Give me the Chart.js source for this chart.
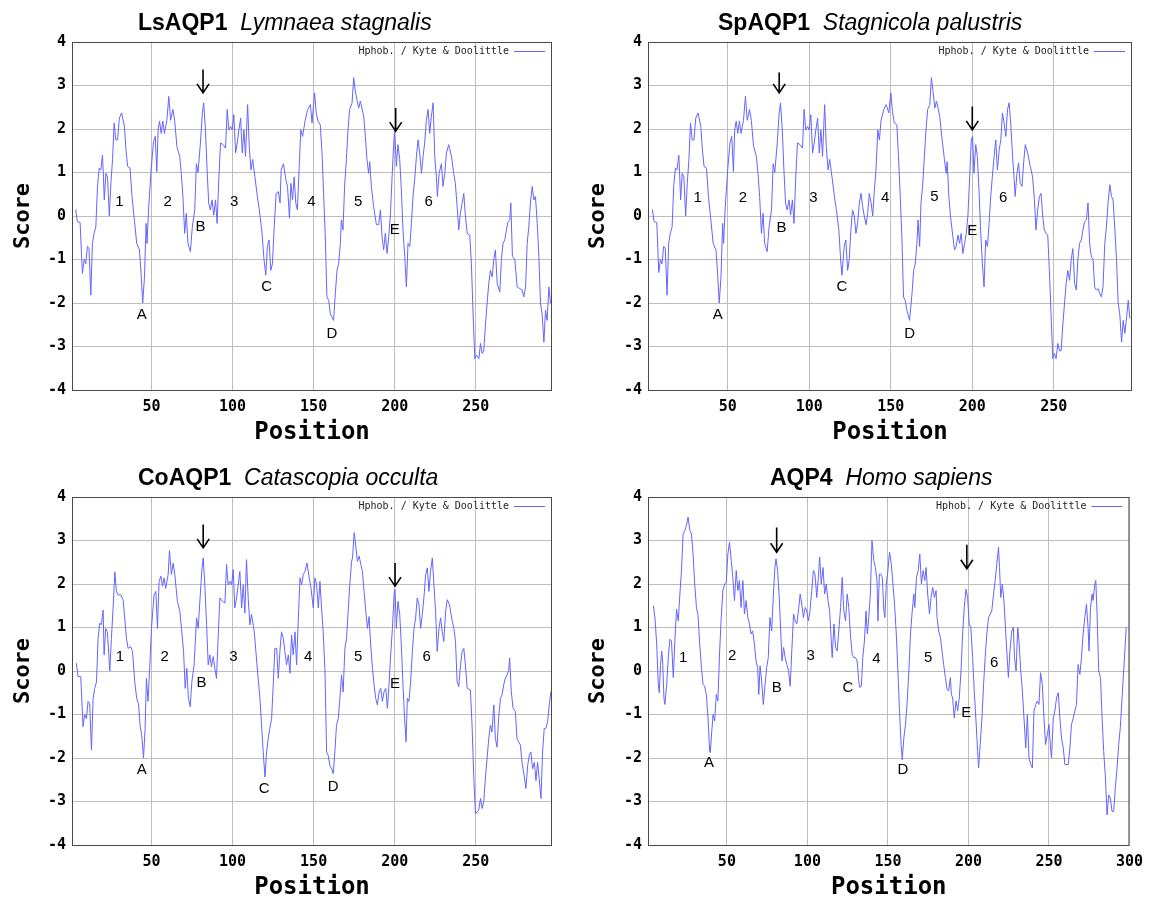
<!DOCTYPE html>
<html>
<head>
<meta charset="utf-8">
<script src="https://cdn.jsdelivr.net/npm/chart.js@4.4.1/dist/chart.umd.min.js"></script>
<style>
  body { margin: 0; background: #fff; }
  .panel { position: absolute; }
  .ttl { position: absolute; font-family: "Liberation Sans", Arial, sans-serif; font-size: 23px; line-height: 23px; color: #000; white-space: nowrap; }
  .ttl b { font-weight: bold; }
  .ttl i { font-style: italic; }
</style>
</head>
<body>
<div class="panel" style="left:0;top:0"><canvas id="c1" width="575" height="445"></canvas></div>
<div class="panel" style="left:575px;top:0"><canvas id="c2" width="576" height="445"></canvas></div>
<div class="panel" style="left:0;top:455px"><canvas id="c3" width="575" height="445"></canvas></div>
<div class="panel" style="left:575px;top:455px"><canvas id="c4" width="576" height="445"></canvas></div>
<div class="ttl" style="left:138px;top:11px"><b>LsAQP1</b>&nbsp;&nbsp;<i>Lymnaea stagnalis</i></div>
<div class="ttl" style="left:718px;top:11px"><b>SpAQP1</b>&nbsp;&nbsp;<i>Stagnicola palustris</i></div>
<div class="ttl" style="left:138px;top:466px"><b>CoAQP1</b>&nbsp;&nbsp;<i>Catascopia occulta</i></div>
<div class="ttl" style="left:770px;top:466px"><b>AQP4</b>&nbsp;&nbsp;<i>Homo sapiens</i></div>
<script>
// Kyte & Doolittle hydropathy, [position, score]
const lsAQP1 = [
  [3.3,0.15],[4.3,-0.13],[6,-0.15],[7.4,-1.32],[8.5,-1.0],[9.5,-1.1],[10.5,-0.7],[11.5,-0.75],[12.6,-1.82],[13.6,-0.63],
  [14.6,-0.4],[15.7,-0.25],[16.7,0.68],[17.8,1.1],[18.8,1.06],[19.8,1.4],[20.4,0.9],[20.9,0.37],[21.9,0.98],[22.9,0.9],
  [24,0],[25,0.75],[26,1.3],[27,2.14],[28,1.75],[29.1,1.75],[30.2,2.25],[31.6,2.37],[33.3,2.06],[34.3,1.52],
  [35.3,1.14],[36.8,1.1],[38,0.45],[39.5,-0.1],[40.9,-0.63],[42.6,-0.78],[43.6,-1.32],[44.6,-2.0],[45.7,-1.4],[46.7,-0.17],
  [47.3,-0.63],[48.3,0.2],[49.8,1.06],[51.2,1.68],[52.3,1.83],[53.3,1.02],[54.1,1.98],[55,2.18],[56,1.9],[57,2.18],
  [58,1.9],[59.5,2.2],[60.7,2.75],[61.8,2.2],[63.2,2.45],[64.3,2.2],[65.7,1.6],[67.4,1.37],[68.4,0.98],[69.4,0.45],
  [70.5,-0.4],[71.5,0.06],[72.5,-0.63],[74,-0.82],[75.2,-0.25],[76.7,0.14],[77.7,1.2],[78.7,1.0],[80.2,1.68],[81.4,2.37],
  [82.2,2.6],[83.3,1.98],[84.3,1.06],[85.3,0.3],[86.3,0.14],[87.4,0.37],[88.4,0.02],[89.5,0.37],[90.5,-0.17],[91.5,0.83],
  [92.6,1.68],[94.2,1.64],[95.7,1.56],[96.7,2.45],[97.7,1.98],[98.8,2.06],[99.8,1.98],[100.8,2.33],[101.9,1.45],[102.9,1.68],
  [103.9,1.98],[105,2.25],[106,1.45],[107,1.98],[108,1.37],[109.3,2.56],[110.3,1.6],[111.4,1.06],[112.4,1.3],[113.8,0.9],
  [115.3,0.45],[116.5,0.14],[118,-0.32],[119.4,-1.0],[120.5,-1.36],[121.5,-0.7],[122.5,-0.55],[123.6,-1.25],[124.6,-1.1],[125.6,-0.32],
  [126.9,0.52],[128.3,0.56],[129.3,0.3],[130,1.06],[131.4,1.2],[132.9,0.83],[133.9,0.68],[135.1,-0.05],[136,0.75],[137,0.37],
  [138,0.9],[139,0.3],[140,0.14],[141.1,1.14],[142.1,1.98],[143.2,1.83],[144.8,2.2],[146.3,2.45],[148,2.56],[149,2.14],
  [150.6,2.83],[151.6,2.37],[152.7,2.18],[154.1,2.1],[155.3,1.37],[156.2,0.45],[157.2,-0.48],[158.2,-1.86],[159.3,-1.94],[160.3,-2.25],
  [161.3,-2.32],[162.3,-2.4],[163.4,-1.78],[164.4,-1.25],[165.4,-1.1],[166.5,-0.63],[167.1,-0.09],[168.1,-0.32],[169.1,0.68],[170.2,1.3],
  [171.2,1.98],[172.2,2.45],[173.7,2.6],[174.7,3.18],[175.7,2.87],[176.7,2.68],[177.8,2.48],[178.8,2.64],[179.8,2.48],[180.9,2.29],
  [181.9,1.83],[182.9,1.3],[183.9,0.98],[184.6,1.25],[185.6,0.68],[187,0.22],[188.7,-0.2],[190.1,-0.2],[191.2,0.14],[192.2,-0.48],
  [193.2,-0.78],[194.2,-0.4],[195.3,-0.86],[196.3,-0.48],[197.3,0],[198.4,0.9],[199.4,1.68],[200,1.98],[201,1.14],[202,1.64],
  [203.1,1.3],[204.1,0.6],[205.1,-0.32],[206.2,-0.93],[207.2,-1.63],[208.2,-0.63],[209.3,-0.7],[210.3,-0.17],[211.3,0.45],[212.3,0.83],
  [213.4,1.37],[214.4,1.75],[215.4,1.45],[216.5,0.98],[217.5,1.37],[218.5,1.68],[219.5,2.2],[220.6,2.45],[221.6,1.9],[222.6,2.29],
  [223.7,2.6],[224.7,1.37],[225.7,0.9],[226.3,0.45],[227.4,0.98],[228.8,1.2],[229.8,0.68],[230.9,0.98],[231.9,1.45],[233.3,1.64],
  [235,1.37],[236.4,0.98],[237.4,0.75],[238.5,0.22],[239.5,-0.32],[240.5,0.06],[241.6,0.3],[242.6,0.52],[243.6,0],[244.7,-0.4],
  [246.3,-0.44],[247.3,-1.1],[248.4,-2.32],[249.4,-3.28],[250.4,-3.2],[251.9,-3.28],[252.9,-2.93],[253.9,-3.16],[254.9,-3.1],[256,-2.48],
  [257,-2.0],[258,-1.55],[259,-1.25],[260.1,-1.4],[261.1,-1.0],[262.1,-0.78],[263.2,-1.55],[264.8,-1.75],[265.8,-1.0],[266.8,-0.63],
  [267.9,-0.55],[268.9,-0.32],[269.9,-0.13],[271,-0.09],[271.6,0.3],[272.6,-0.93],[274.1,-1.0],[275.5,-1.63],[277.2,-1.67],[278.6,-1.7],
  [279.6,-1.86],[280.7,-1.63],[281.7,-0.63],[282.7,-0.25],[283.7,0.3],[284.8,0.68],[285.8,0.37],[286.8,0.45],[287.9,-0.17],[288.9,-0.93],
  [289.9,-2.0],[290.9,-2.25],[292,-2.9],[293,-2.17],[294,-2.4],[295.1,-1.63],[296.1,-2.0]
];

const spAQP1 = [
  [3.7,0.15],[4.7,-0.13],[6.4,-0.15],[7.6,-1.3],[8.6,-1.0],[9.6,-1.1],[10.6,-0.7],[11.6,-0.75],[12.7,-1.82],[13.7,-0.63],
  [14.7,-0.4],[15.8,-0.25],[16.8,0.7],[17.8,1.1],[18.8,1.06],[19.9,1.4],[20.5,0.9],[21,0.37],[22,0.98],[23,0.9],
  [24.1,0],[25.1,0.75],[26.1,1.3],[27.1,2.14],[28.1,1.75],[29.2,1.75],[30.3,2.25],[31.7,2.37],[33.4,2.06],[34.4,1.52],
  [35.4,1.14],[36.9,1.1],[38.1,0.45],[39.6,-0.1],[41,-0.63],[42.7,-0.78],[43.7,-1.32],[44.7,-2.0],[45.8,-1.4],[46.8,-0.17],
  [47.4,-0.63],[48.4,0.2],[49.9,1.06],[51.3,1.68],[52.4,1.83],[53.4,1.02],[54.2,1.98],[55.1,2.18],[56.1,1.9],[57.1,2.18],
  [58.1,1.9],[59.6,2.2],[60.8,2.75],[61.9,2.2],[63.3,2.45],[64.4,2.2],[65.8,1.6],[67.5,1.37],[68.5,0.98],[69.5,0.45],
  [70.6,-0.4],[71.6,0.06],[72.6,-0.63],[74.1,-0.82],[75.3,-0.25],[76.8,0.14],[77.8,1.2],[78.8,1.0],[80.3,1.68],[81.5,2.37],
  [82.3,2.6],[83.4,1.98],[84.4,1.06],[85.4,0.3],[86.4,0.14],[87.5,0.37],[88.5,0.02],[89.6,0.37],[90.6,-0.17],[91.6,0.83],
  [92.7,1.68],[94.3,1.64],[95.8,1.56],[96.8,2.45],[97.8,1.98],[98.9,2.06],[99.9,1.98],[100.9,2.33],[102,1.45],[103,1.68],
  [104,1.98],[105.1,2.25],[106.1,1.45],[107.1,1.98],[108.1,1.37],[109.4,2.56],[110.4,1.6],[111.5,1.06],[112.5,1.3],[113.9,0.9],
  [115.4,0.45],[116.6,0.14],[118.1,-0.32],[119.2,-1.0],[120,-1.36],[121.4,-0.7],[122.4,-0.55],[123.5,-1.25],[124.5,-1.0],[125.5,-0.32],
  [126.5,0.14],[127.6,0],[128.6,-0.4],[129.6,-0.17],[130.7,0.3],[131.7,0.52],[132.7,0.22],[133.7,0],[134.8,-0.2],[135.8,0.06],
  [136.8,0.52],[137.9,0.3],[138.9,0],[139.9,0.6],[140.9,1.06],[142,1.98],[143,1.75],[144,2.2],[145.7,2.45],[147.1,2.56],
  [148.8,2.37],[150,2.83],[151,2.41],[152.1,2.14],[153.7,2.1],[154.7,1.37],[155.8,0.45],[156.8,-0.48],[157.8,-1.86],[158.8,-1.94],
  [159.9,-2.17],[161.5,-2.4],[163,-1.78],[164,-1.25],[165,-1.1],[166,-0.63],[166.7,-0.09],[167.7,-0.7],[168.5,0.3],[169.5,0.68],
  [170.6,1.37],[171.6,1.98],[172.6,2.45],[173.9,2.56],[174.9,3.18],[175.9,2.87],[177,2.48],[178,2.64],[179,2.48],[180,2.29],
  [181.5,1.75],[182.9,1.3],[184,0.98],[184.6,1.25],[185.6,0.45],[186.6,0],[188.1,-0.48],[189.1,-0.78],[190.1,-0.7],[191.2,-0.44],
  [192.2,-0.63],[193.2,-0.4],[194.2,-0.86],[195.3,-0.63],[196.3,-0.4],[197.3,0],[198.4,0.9],[199.4,1.75],[200.2,1.83],[201,0.98],
  [202.1,1.64],[203.1,1.37],[204.1,0.6],[205.1,-0.32],[206.2,-1.1],[207.2,-1.63],[208.2,-0.55],[209.3,-0.7],[210.3,-0.17],[211.3,0.45],
  [212.3,0.9],[213.4,1.37],[214.4,1.75],[215.4,1.06],[216.5,1.52],[217.5,1.75],[218.5,2.37],[219.5,2.14],[220.6,1.83],[221.6,2.45],
  [222.6,2.6],[223.7,2.06],[224.7,1.37],[225.7,0.83],[226.3,0.45],[227.4,0.98],[228.4,1.22],[229.4,0.75],[230.5,0.68],[231.5,1.22],
  [232.5,1.64],[234,1.45],[235.6,1.14],[237,0.9],[238.1,0.37],[239.1,-0.32],[240.1,0.14],[241.2,0.45],[242.2,0.52],[243.2,0],
  [244.2,-0.32],[245.3,-0.4],[246.3,-0.44],[247.3,-1.25],[248.4,-2.32],[249.4,-3.28],[250.4,-3.16],[251.4,-3.28],[252.5,-2.93],[253.5,-3.1],
  [254.5,-3.1],[255.6,-2.48],[256.6,-2.0],[257.6,-1.55],[258.6,-1.25],[259.7,-1.48],[260.7,-1.0],[261.7,-0.75],[262.8,-1.55],[263.8,-1.7],
  [264.8,-1.0],[265.8,-0.63],[266.9,-0.55],[267.9,-0.32],[268.9,-0.13],[270,-0.09],[271,0.3],[272,-0.63],[273,-0.93],[274.1,-1.0],
  [275.1,-1.63],[276.1,-1.7],[277.2,-1.67],[278.2,-1.78],[279.2,-1.86],[280.2,-1.63],[281.3,-0.63],[282.3,-0.25],[283.3,0.3],[284.4,0.72],
  [285.4,0.45],[286.4,0.37],[287.4,-0.25],[288.5,-1.0],[289.5,-2.0],[290.5,-2.25],[291.6,-2.9],[292.6,-2.4],[293.6,-2.7],[294.7,-2.32],
  [295.7,-1.94],[296.7,-2.36]
];

const coAQP1 = [
  [3.7,0.18],[4.7,-0.13],[6.4,-0.13],[7.8,-1.28],[8.8,-1.0],[9.9,-1.09],[10.9,-0.7],[11.9,-0.75],[13,-1.82],[14,-0.63],
  [15,-0.4],[16.1,-0.25],[17.1,0.75],[18.1,1.1],[19.1,1.06],[20.2,1.4],[20.8,0.37],[21.8,0.98],[22.8,0.9],[24.3,0],
  [25.3,0.75],[26.3,1.41],[27.4,2.28],[28.4,1.83],[29.4,1.75],[31.1,1.75],[32.5,1.64],[33.5,1.22],[34.6,0.75],[35.6,0.52],
  [37.2,0.56],[38.3,0.45],[39.7,-0.25],[40.9,-0.63],[42,-0.75],[43,-1.25],[44,-1.48],[45.1,-2.0],[46.1,-1.32],[46.9,-0.17],
  [47.9,-0.7],[49,0.14],[50,0.98],[51.6,1.75],[52.7,1.83],[53.7,0.98],[54.7,2.06],[55.8,2.18],[56.8,1.95],[57.8,2.14],
  [58.8,1.9],[60.3,2.22],[61.1,2.77],[62.3,2.22],[63.4,2.48],[64.4,2.22],[66,1.6],[67.5,1.37],[68.5,0.98],[69.8,0.45],
  [70.8,-0.4],[71.8,0.06],[72.8,-0.63],[73.9,-0.82],[74.9,-0.25],[76.3,0.14],[77.8,1.22],[78.8,0.98],[80,1.68],[81.1,2.33],
  [81.9,2.6],[82.9,1.98],[84,1.06],[85,0.14],[86,0.37],[87,0.1],[88.1,0.33],[89.1,0.06],[90.1,-0.17],[91.2,0.83],
  [92.2,1.68],[93.8,1.6],[95.3,1.56],[96.3,2.45],[97.3,1.98],[98.4,2.06],[99.4,1.98],[100.4,2.33],[101.4,1.45],[102.5,1.68],
  [103.5,1.98],[104.5,2.29],[105.6,1.45],[106.6,1.98],[107.6,1.33],[108.6,2.56],[109.7,1.64],[110.7,1.06],[111.7,1.3],[113.4,0.9],
  [114.4,0.45],[115.4,0],[116.9,-0.63],[117.9,-1.25],[118.9,-1.86],[120,-2.44],[121,-1.86],[122,-1.55],[123,-1.32],[124.1,-1.09],
  [125.1,-0.32],[126.1,0.52],[127.2,0.52],[128.2,-0.17],[129.2,0.45],[130.2,0.9],[131.3,0.75],[132.3,0.45],[133.3,0.14],[134.4,0.37],
  [135.4,-0.05],[136.4,0.83],[137.4,0.37],[138.5,0.9],[139.5,0.14],[140.5,1.14],[141.6,2.14],[142.6,1.98],[143.6,2.22],[144.7,2.29],
  [145.9,2.48],[147.3,2.14],[148.4,1.9],[149.8,1.45],[150.8,2.14],[151.8,2.0],[152.9,1.45],[153.9,2.06],[154.9,1.45],[155.9,0.9],
  [157,0],[158,-1.86],[159,-1.94],[160,-2.17],[161.1,-2.25],[162.1,-2.36],[163.1,-1.86],[164.1,-1.25],[165.2,-1.09],[166.2,-0.63],
  [167.2,-0.09],[168.2,-0.48],[169.3,0.52],[170.3,0.75],[171.3,1.37],[172.3,1.98],[173.4,2.52],[174,2.6],[175,3.18],[176,2.87],
  [177,2.52],[178.1,2.64],[179.1,2.45],[180.1,2.29],[181.1,1.83],[182.2,1.37],[183.2,0.98],[184.2,1.25],[185.2,0.6],[186.3,0.06],
  [187.3,-0.32],[188.3,-0.63],[189.3,-0.78],[190.4,-0.48],[191.4,-0.4],[192.4,-0.7],[193.4,-0.48],[194.5,-0.4],[195.5,-0.86],[196.5,-0.32],
  [197.5,0.37],[198.6,0.98],[199.6,1.75],[200.2,1.87],[201,0.98],[202,1.6],[203.1,1.3],[204.1,0.6],[205.1,-0.32],[206.1,-1.09],
  [207,-1.63],[207.8,-0.63],[208.8,-0.7],[209.8,-0.25],[210.9,0.45],[211.9,0.98],[212.9,1.22],[213.9,1.68],[215,1.52],[216,0.98],
  [217,1.3],[218,1.68],[219.1,2.22],[220.1,2.37],[221.1,1.83],[222.1,2.29],[223.2,2.6],[224.2,1.98],[225.2,1.37],[226.2,0.45],
  [227.3,0.98],[228.3,1.22],[229.3,0.9],[230.3,0.68],[231.4,1.37],[232.4,1.64],[233.8,1.52],[235.5,1.14],[236.5,0.98],[237.5,0.68],
  [238.5,-0.25],[239.5,-0.36],[240.6,0.14],[241.6,0.45],[242.6,0.52],[243.6,0.14],[244.7,-0.4],[246.7,-0.44],[247.7,-1.25],[248.8,-2.48],
  [249.8,-3.28],[250.8,-3.24],[251.8,-3.2],[252.9,-2.93],[253.9,-3.16],[254.9,-3.0],[255.9,-2.48],[257,-2.0],[258,-1.55],[259,-1.25],
  [260,-1.4],[261.1,-0.78],[262.1,-1.55],[263.1,-1.75],[264.1,-1.09],[265.2,-0.63],[266.2,-0.55],[267.2,-0.32],[268.2,-0.17],[269.3,-0.09],
  [270.3,0.02],[270.9,0.3],[271.9,-0.48],[273,-0.86],[274.4,-0.93],[275.4,-1.55],[276.4,-1.63],[277.5,-1.7],[278.5,-2.1],[279.5,-2.32],
  [280.9,-2.7],[282,-2.17],[283,-1.94],[284,-1.86],[285,-2.25],[286.1,-2.1],[287.1,-2.52],[288.1,-2.1],[289.1,-2.48],[290.2,-2.93],
  [291.2,-1.86],[292.2,-1.32],[293.2,-1.32],[294.3,-1.17],[295.3,-0.78],[296.3,-0.48]
];

const hsAQP4 = [
  [4.3,1.5],[5.3,1.23],[6.4,0.62],[7.4,-0.31],[8,-0.5],[8.8,0.15],[9.5,0.46],[10.1,0.23],[10.9,-0.62],[11.5,-0.77],
  [12.6,-0.31],[13.6,0.31],[14.6,0.73],[15.6,0.69],[16.7,-0.15],[17.7,0.69],[18.7,1.42],[19.8,1.15],[20.8,1.77],[21.8,2.31],
  [22.8,3.15],[23.9,3.23],[24.9,3.35],[25.9,3.54],[27,3.23],[28,3.15],[29,2.69],[30,2.0],[31.1,1.46],[32.1,1.27],
  [33.1,0.62],[34.2,0.08],[35.2,-0.31],[36.2,-0.35],[37.2,-0.54],[38.3,-1.08],[39.3,-1.85],[39.7,-1.88],[40.3,-1.54],[41.4,-1.0],
  [42.4,-1.15],[43.4,-0.54],[44.4,-0.69],[45.5,0.46],[46.5,1.23],[47.5,1.85],[48.6,2.0],[49.6,2.04],[50.6,2.69],[51.6,2.96],
  [52.7,2.54],[53.7,2.15],[54.7,1.62],[55.8,2.31],[56.8,1.85],[57.8,2.08],[58.8,1.46],[59.9,2.08],[60.9,1.31],[61.9,1.62],
  [63,1.23],[64,1.08],[65,0.85],[66,0.92],[67.1,0.62],[68.1,0.23],[69.1,0.08],[69.8,-0.54],[70.6,0.12],[71.6,-0.23],
  [72.6,-0.77],[73.7,-0.31],[74.7,0.08],[75.7,0.31],[76.7,1.23],[77.8,0.92],[78.8,1.69],[79.8,2.38],[80.5,2.58],[81.5,2.31],
  [82.5,1.69],[83.5,0.85],[84.2,0.23],[85.2,0.54],[86.2,0.31],[87.2,0.15],[88.3,0],[89.3,-0.35],[90.3,0.46],[91.4,1.31],
  [92.4,1.15],[93.4,1.08],[94.4,1.38],[95.5,1.77],[96.5,1.54],[97.5,1.23],[98.6,1.46],[99.6,1.38],[100.6,1.15],[101.6,1.38],
  [102.7,1.85],[103.7,2.31],[104.7,2.23],[105.8,1.69],[106.8,2.15],[107.6,2.62],[108.6,2.0],[109.7,2.38],[110.7,1.77],[111.7,2.0],
  [112.8,1.62],[113.8,1.38],[114.8,0.69],[115.4,0.31],[116.5,1.08],[117.5,0.54],[118.5,0.46],[119.5,0.92],[120.6,1.46],[121.6,2.15],
  [122.6,1.38],[123.7,1.15],[124.7,1.77],[125.7,1.46],[126.7,0.85],[127.8,0.38],[128.8,0.31],[129.8,0.31],[130.9,0.23],[131.9,-0.23],
  [132.5,-0.38],[133.5,-0.35],[134.4,0.31],[135.4,0.69],[136.4,1.38],[137.2,0.85],[138.1,1.23],[139.1,1.77],[140.1,3.0],[141.2,2.54],
  [142.2,2.38],[143.2,2.08],[143.8,1.15],[144.7,2.23],[145.5,2.23],[146.5,2.15],[147.5,1.38],[148.1,1.23],[149,2.0],[150,2.31],
  [151,2.73],[152.1,2.46],[153.1,2.0],[154.1,1.54],[155.2,0.85],[156.2,0],[157.2,-0.92],[158.2,-1.69],[158.9,-2.04],[159.9,-1.54],
  [160.9,-1.23],[162,-0.69],[163,0],[164,0.85],[165.1,1.38],[166.1,1.77],[166.7,1.46],[167.7,2.15],[168.8,2.31],[169.8,2.69],
  [170.8,2.0],[171.9,2.31],[172.9,2.08],[173.7,2.38],[174.7,1.77],[175.8,1.31],[176.8,1.69],[177.8,1.92],[178.9,1.69],[179.9,1.85],
  [180.5,1.23],[181.5,0.92],[182.6,0.77],[183.6,0.46],[184.6,0.15],[185.7,-0.15],[186.7,-0.42],[187.7,-0.46],[188.8,-0.15],[189.4,-0.54],
  [190.2,-0.62],[191.2,-1.08],[192.3,-0.69],[193.3,-0.92],[194.3,-0.62],[195.4,0],[196.4,0.85],[197.4,1.46],[198.5,1.88],[199.5,1.69],
  [200.5,1.08],[201.5,1.0],[202.6,0.31],[203.6,-0.46],[204.6,-1.08],[205.7,-1.85],[206.3,-2.23],[207.3,-1.69],[208.4,-1.08],[209.4,-0.31],
  [210.4,0.31],[211.4,0.85],[212.5,1.23],[213.5,1.31],[214.5,1.38],[215.6,1.77],[216.6,2.08],[217.6,2.46],[218.7,2.85],[219.3,2.38],
  [220.1,1.69],[221.1,2.0],[222.2,1.54],[223.2,0.85],[224.2,0.23],[224.8,-0.15],[225.8,0.46],[226.9,0.92],[227.9,1.0],[228.6,0.31],
  [229.6,0],[230.6,1.0],[231.4,0.69],[232.5,0],[233.5,-0.46],[234.5,-1.08],[235.6,-1.77],[236.6,-1.0],[237.6,-2.0],[238.7,-2.15],
  [239.7,-2.23],[240.7,-0.92],[241.8,-0.77],[242.8,-0.69],[243.8,-0.77],[244.8,-0.04],[245.9,-0.31],[246.9,-1.08],[247.9,-1.69],[249,-1.46],
  [250,-1.23],[251,-1.77],[251.6,-2.0],[252.7,-1.08],[253.7,-0.92],[254.7,-0.62],[255.8,-0.5],[256.8,-1.08],[257.8,-1.54],[258.9,-1.77],
  [259.9,-2.15],[262,-2.15],[263,-1.77],[264,-1.23],[265.1,-1.08],[266.1,-0.92],[267.1,-0.77],[268.1,0.15],[269.2,-0.08],[270.2,0.31],
  [271.2,0.85],[272.3,1.23],[273.3,1.54],[274.3,1.0],[274.9,0.46],[275.8,1.46],[276.8,1.77],[277.4,1.62],[278.5,2.0],[279.1,2.08],
  [279.9,1.31],[280.9,0],[282,-0.15],[283,-1.08],[284,-1.85],[285.1,-2.46],[286.1,-3.31],[287.1,-2.85],[288.1,-2.92],[289.2,-3.23],
  [290.2,-3.23],[291.2,-2.69],[292.3,-2.23],[293.3,-1.69],[294.3,-1.31],[295.4,-0.62],[296.4,0],[297.4,0.62],[298,1.0]
];

// segment labels: [text, position, score]
const lsNotes = [['1',30.2,0.33],['2',60,0.33],['3',101,0.33],['4',148.6,0.33],['5',177.4,0.33],['6',221,0.33],
                 ['A',44,-2.28],['B',80.2,-0.26],['C',121,-1.63],['D',161.3,-2.7],['E',200,-0.32]];
const spNotes = [['1',31.5,0.41],['2',59.3,0.41],['3',102.5,0.41],['4',146.5,0.41],['5',176.7,0.45],['6',219,0.41],
                 ['A',43.8,-2.27],['B',82.9,-0.27],['C',120,-1.63],['D',161.5,-2.7],['E',200,-0.35]];
const coNotes = [['1',30.5,0.33],['2',58.2,0.33],['3',100.6,0.33],['4',146.7,0.33],['5',177.5,0.33],['6',219.7,0.33],
                 ['A',44,-2.28],['B',80.9,-0.28],['C',119.5,-2.7],['D',162,-2.67],['E',200.2,-0.3]];
const hsNotes = [['1',22.8,0.31],['2',53.3,0.35],['3',102,0.35],['4',142.8,0.29],['5',175,0.31],['6',216,0.19],
                 ['A',38.9,-2.12],['B',80.9,-0.38],['C',125.1,-0.38],['D',159.3,-2.27],['E',198.7,-0.96]];

// arrows: [position, tail score, tip score]
const lsArrows = [[81.8,3.37,2.83],[200.6,2.48,1.95]];
const spArrows = [[81.5,3.3,2.83],[200,2.52,1.98]];
const coArrows = [[81.9,3.37,2.83],[200.2,2.48,1.95]];
const hsArrows = [[80.9,3.3,2.73],[199,2.9,2.35]];

const xTicks = [50, 100, 150, 200, 250, 300];
const yRange = [-4, 4];
const lineBlue = 'rgb(100,100,255)';
const mono = '"DejaVu Sans Mono", monospace';

const notesPlugin = {
  id: 'notes',
  afterDatasetsDraw(chart, args, opts) {
    const {ctx, chartArea: a, scales: {x, y}} = chart;
    ctx.save();
    // frame
    ctx.strokeStyle = '#4a4a4a';
    ctx.lineWidth = 1;
    ctx.strokeRect(a.left + 0.5, a.top + 0.5, a.right - a.left - 1, a.bottom - a.top);
    // labels
    ctx.fillStyle = '#000';
    ctx.font = '15px "Liberation Sans", Arial, sans-serif';
    ctx.textAlign = 'center';
    ctx.textBaseline = 'middle';
    opts.labels.forEach(([t, p, s]) => ctx.fillText(t, x.getPixelForValue(p), y.getPixelForValue(s)));
    // arrows
    ctx.strokeStyle = '#000';
    ctx.lineWidth = 1.6;
    opts.arrows.forEach(([p, s0, s1]) => {
      const ax = x.getPixelForValue(p), y0 = y.getPixelForValue(s0), y1 = y.getPixelForValue(s1);
      ctx.beginPath();
      ctx.moveTo(ax, y0); ctx.lineTo(ax, y1);
      ctx.moveTo(ax - 6, y1 - 9); ctx.lineTo(ax, y1); ctx.lineTo(ax + 6, y1 - 9);
      ctx.stroke();
    });
    // key
    const ds = chart.data.datasets[0];
    ctx.font = '10px ' + mono;
    ctx.fillStyle = '#222';
    ctx.textAlign = 'right';
    ctx.fillText(ds.label, a.right - 43, a.top + 9);
    ctx.strokeStyle = ds.borderColor;
    ctx.lineWidth = 1;
    ctx.beginPath();
    ctx.moveTo(a.right - 38, a.top + 9.5); ctx.lineTo(a.right - 7, a.top + 9.5);
    ctx.stroke();
    ctx.restore();
  }
};

function drawPanel(id, profile, xMax, labels, arrows, axisWidth, rightPad) {
  new Chart(document.getElementById(id), {
    type: 'line',
    data: {
      datasets: [{
        label: 'Hphob. / Kyte & Doolittle',
        data: profile.map(([p, s]) => ({x: p, y: s})),
        borderColor: lineBlue,
        borderWidth: 1,
        pointRadius: 0,
        tension: 0
      }]
    },
    options: {
      responsive: false,
      animation: false,
      devicePixelRatio: 1,
      layout: {padding: {top: 42, right: rightPad, left: 0, bottom: 0}},
      plugins: {
        legend: {display: false},
        tooltip: {enabled: false},
        notes: {labels: labels, arrows: arrows}
      },
      scales: {
        x: {
          type: 'linear',
          min: 1,
          max: xMax,
          afterBuildTicks(s) { s.ticks = xTicks.filter(v => v <= xMax).map(v => ({value: v})); },
          afterFit(s) { s.height = 55; },
          border: {display: false},
          grid: {color: '#bdbdbd', drawTicks: false},
          ticks: {color: '#000', padding: 8,
                  font: {family: mono, size: 15, weight: 'bold'}},
          title: {display: true, text: 'Position', color: '#000', padding: {top: 0, bottom: 0},
                  font: {family: mono, size: 24, weight: 'bold', lineHeight: 1}}
        },
        y: {
          min: yRange[0],
          max: yRange[1],
          afterFit(s) { s.width = axisWidth; },
          border: {display: false},
          grid: {color: '#bdbdbd', drawTicks: false},
          ticks: {stepSize: 1, color: '#000', padding: 6,
                  font: {family: mono, size: 15, weight: 'bold'}},
          title: {display: true, text: 'Score', color: '#000', padding: {top: 12, bottom: 0},
                  font: {family: mono, size: 22, weight: 'bold', lineHeight: 1}}
        }
      }
    },
    plugins: [notesPlugin]
  });
}

drawPanel('c1', lsAQP1, 297, lsNotes, lsArrows, 72, 23);
drawPanel('c2', spAQP1, 298, spNotes, spArrows, 73, 19);
drawPanel('c3', coAQP1, 297, coNotes, coArrows, 72, 23);
drawPanel('c4', hsAQP4, 300, hsNotes, hsArrows, 73, 19);
</script>
</body>
</html>
